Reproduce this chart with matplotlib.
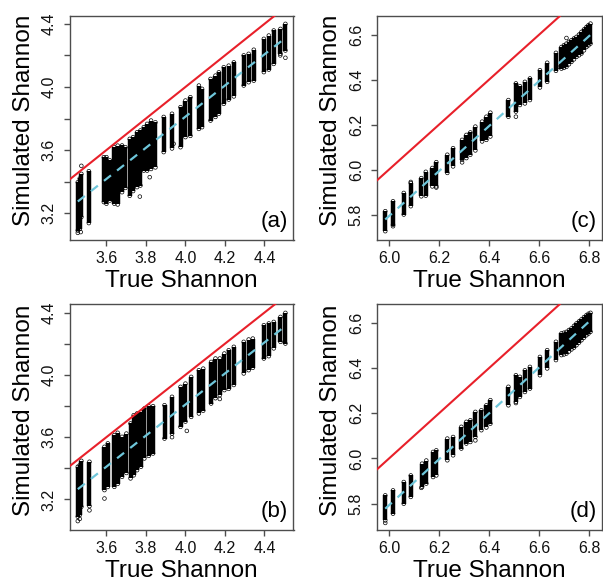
import matplotlib
matplotlib.use("Agg")
import matplotlib.pyplot as plt
import numpy as np

plt.rcParams['font.family'] = ['Liberation Sans', 'DejaVu Sans']

# ---- panel (a) ----
a_x = [3.455, 3.465, 3.473, 3.511, 3.587, 3.600, 3.617, 3.640, 3.657, 3.679, 3.696,
       3.718, 3.735, 3.755, 3.772, 3.789, 3.806, 3.826, 3.848, 3.890, 3.932, 3.975,
       4.000, 4.025, 4.068, 4.084, 4.127, 4.152, 4.169, 4.194, 4.219, 4.245, 4.295,
       4.320, 4.346, 4.397, 4.422, 4.447, 4.481, 4.506]
a_lo = [3.09, 3.10, 3.175, 3.137, 3.27, 3.26, 3.28, 3.26, 3.255, 3.333, 3.36,
        3.31, 3.34, 3.365, 3.375, 3.47, 3.47, 3.48, 3.49, 3.587, 3.61, 3.618,
        3.682, 3.69, 3.734, 3.745, 3.787, 3.81, 3.83, 3.893, 3.92, 3.94, 4.009,
        4.03, 4.04, 4.094, 4.11, 4.146, 4.21, 4.231]
a_hi = [3.396, 3.42, 3.449, 3.466, 3.555, 3.555, 3.535, 3.618, 3.628, 3.629, 3.618,
        3.671, 3.682, 3.713, 3.724, 3.745, 3.766, 3.787, 3.776, 3.81, 3.83, 3.872,
        3.914, 3.935, 4.009, 3.988, 4.051, 4.072, 4.093, 4.125, 4.135, 4.156, 4.2,
        4.21, 4.236, 4.305, 4.326, 4.358, 4.368, 4.4]
a_out_x = [3.455, 3.47, 3.473, 3.769, 3.819, 3.94, 4.07, 4.506, 4.48]
a_out_y = [3.075, 3.08, 3.50, 3.305, 3.428, 3.64, 3.765, 4.185, 4.20]
a_fit_x = [3.455, 4.515]
a_fit_y = [3.274, 4.320]

# ---- panel (b) ----
b_x = [3.455, 3.465, 3.473, 3.514, 3.590, 3.607, 3.640, 3.657, 3.679, 3.701, 3.722,
       3.738, 3.755, 3.775, 3.792, 3.814, 3.836, 3.894, 3.932, 3.975, 4.000, 4.029,
       4.068, 4.090, 4.130, 4.152, 4.174, 4.197, 4.219, 4.245, 4.295, 4.320, 4.341,
       4.397, 4.422, 4.447, 4.481, 4.506]
b_lo = [3.089, 3.10, 3.153, 3.157, 3.26, 3.28, 3.281, 3.30, 3.345, 3.37, 3.335,
        3.355, 3.388, 3.41, 3.463, 3.48, 3.495, 3.591, 3.623, 3.666, 3.70, 3.73,
        3.752, 3.77, 3.816, 3.85, 3.87, 3.902, 3.91, 3.935, 4.009, 4.03, 4.045,
        4.105, 4.12, 4.17, 4.212, 4.201]
b_hi = [3.41, 3.42, 3.448, 3.442, 3.538, 3.56, 3.613, 3.628, 3.602, 3.623, 3.688,
        3.741, 3.752, 3.763, 3.784, 3.799, 3.799, 3.805, 3.859, 3.923, 3.944, 3.987,
        4.03, 4.04, 4.083, 4.105, 4.105, 4.137, 4.158, 4.18, 4.212, 4.227, 4.233,
        4.319, 4.33, 4.34, 4.372, 4.398]
b_out_x = [3.455, 3.465, 3.514, 3.590, 3.932, 4.174, 4.007]
b_out_y = [3.061, 3.075, 3.13, 3.206, 3.60, 3.845, 3.64]
b_fit_x = [3.455, 4.515]
b_fit_y = [3.266, 4.323]

# ---- panel (c) ----
c_x = [5.985, 6.016, 6.059, 6.087, 6.129, 6.147, 6.173, 6.189, 6.233, 6.256, 6.292,
       6.309, 6.325, 6.345, 6.372, 6.389, 6.405, 6.477, 6.507, 6.523, 6.543, 6.563,
       6.603, 6.632, 6.667, 6.689, 6.699, 6.709, 6.719, 6.729, 6.739, 6.749, 6.759,
       6.769, 6.779, 6.789, 6.797, 6.805]
c_lo = [5.726, 5.748, 5.80, 5.837, 5.881, 5.884, 5.925, 5.925, 5.985, 6.014, 6.044,
        6.051, 6.066, 6.085, 6.125, 6.132, 6.147, 6.235, 6.258, 6.287, 6.294, 6.309,
        6.365, 6.39, 6.439, 6.449, 6.452, 6.457, 6.468, 6.479, 6.49, 6.501, 6.508,
        6.516, 6.53, 6.545, 6.552, 6.56]
c_hi = [5.815, 5.859, 5.896, 5.94, 5.962, 5.99, 6.007, 6.033, 6.066, 6.095, 6.132,
        6.154, 6.165, 6.191, 6.213, 6.235, 6.253, 6.309, 6.383, 6.371, 6.39, 6.405,
        6.442, 6.475, 6.519, 6.545, 6.553, 6.56, 6.568, 6.575, 6.583, 6.59, 6.60,
        6.612, 6.623, 6.634, 6.642, 6.649]
c_out_x = [6.507, 6.292, 6.016, 6.189, 6.087, 6.672, 6.709]
c_out_y = [6.235, 6.032, 5.755, 5.92, 5.945, 6.455, 6.585]
c_fit_x = [5.985, 6.810]
c_fit_y = [5.778, 6.604]

# ---- panel (d) ----
d_x = [5.985, 6.016, 6.059, 6.087, 6.132, 6.149, 6.176, 6.189, 6.233, 6.256, 6.289,
       6.309, 6.325, 6.345, 6.369, 6.389, 6.405, 6.477, 6.507, 6.523, 6.543, 6.563,
       6.603, 6.632, 6.667, 6.689, 6.699, 6.709, 6.719, 6.729, 6.739, 6.749, 6.759,
       6.769, 6.779, 6.789, 6.797, 6.805]
d_lo = [5.726, 5.756, 5.80, 5.83, 5.874, 5.889, 5.918, 5.925, 5.992, 6.014, 6.044,
        6.066, 6.073, 6.095, 6.125, 6.137, 6.154, 6.235, 6.25, 6.272, 6.294, 6.309,
        6.368, 6.398, 6.435, 6.457, 6.46, 6.464, 6.473, 6.482, 6.49, 6.501, 6.512,
        6.523, 6.534, 6.545, 6.552, 6.56]
d_hi = [5.837, 5.859, 5.896, 5.925, 5.977, 5.991, 6.029, 6.036, 6.088, 6.095, 6.14,
        6.162, 6.169, 6.206, 6.213, 6.235, 6.258, 6.317, 6.368, 6.361, 6.39, 6.405,
        6.449, 6.479, 6.516, 6.553, 6.556, 6.56, 6.568, 6.575, 6.586, 6.597, 6.606,
        6.615, 6.625, 6.634, 6.64, 6.644]
d_out_x = [5.985, 6.129, 6.507, 6.345]
d_out_y = [5.715, 5.87, 6.245, 6.08]
d_fit_x = [5.985, 6.803]
d_fit_y = [5.778, 6.609]

W, H = 603, 581
fig = plt.figure(figsize=(W / 100, H / 100), dpi=100)

# left, top, right, bottom in pixels
boxes = {
    'a': (69.5, 15.5, 293.5, 239.5),
    'c': (377.0, 15.5, 602.0, 239.5),
    'b': (69.5, 304.0, 293.5, 529.5),
    'd': (377.0, 304.0, 602.0, 529.5),
}

panels = {
    'a': (a_x, a_lo, a_hi, a_out_x, a_out_y, a_fit_x, a_fit_y,
          (3.413, 4.547), (3.033, 4.453)),
    'b': (b_x, b_lo, b_hi, b_out_x, b_out_y, b_fit_x, b_fit_y,
          (3.413, 4.547), (3.007, 4.455)),
    'c': (c_x, c_lo, c_hi, c_out_x, c_out_y, c_fit_x, c_fit_y,
          (5.952, 6.851), (5.689, 6.685)),
    'd': (d_x, d_lo, d_hi, d_out_x, d_out_y, d_fit_x, d_fit_y,
          (5.952, 6.851), (5.686, 6.683)),
}

frame_col = '#4d4d4d'

for key, (x, lo, hi, ox, oy, fx, fy, xl, yl) in panels.items():
    l, t, r, b = boxes[key]
    ax = fig.add_axes([l / W, 1 - b / H, (r - l) / W, (b - t) / H])
    ax.set_xlim(*xl)
    ax.set_ylim(*yl)

    # dense columns of simulated points
    ax.vlines(x, lo, hi, colors='black', linewidth=3.2, zorder=2)
    ax.scatter(x + x, lo + hi, s=7, facecolors='none', edgecolors='black',
               linewidths=0.5, zorder=2)
    ax.scatter(ox, oy, s=7, facecolors='none', edgecolors='black',
               linewidths=0.5, zorder=2)

    ax.axline((xl[0], xl[0]), slope=1, color='#e8202a', linewidth=1.5, zorder=3)
    ax.plot(fx, fy, color='#6ec6da', linewidth=1.6, linestyle=(0, (4, 3.5)), zorder=4)

    if key in ('a', 'b'):
        ax.set_xticks([3.6, 3.8, 4.0, 4.2, 4.4])
        ax.set_xticklabels(['3.6', '3.8', '4.0', '4.2', '4.4'])
        ax.set_yticks([3.2, 3.4, 3.6, 3.8, 4.0, 4.2, 4.4])
        ax.set_yticklabels(['3.2', '', '3.6', '', '4.0', '', '4.4'])
    else:
        ax.set_xticks([6.0, 6.2, 6.4, 6.6, 6.8])
        ax.set_xticklabels(['6.0', '6.2', '6.4', '6.6', '6.8'])
        ax.set_yticks([5.8, 6.0, 6.2, 6.4, 6.6])
        ax.set_yticklabels(['5.8', '6.0', '6.2', '6.4', '6.6'])

    for s in ax.spines.values():
        s.set_color(frame_col)
        s.set_linewidth(1.0)
    ax.tick_params(axis='both', length=4.5, width=1.0, color=frame_col,
                   labelsize=11.5, labelcolor='#111111')
    ax.tick_params(axis='x', pad=4)
    ax.tick_params(axis='y', pad=5)
    for lab in ax.get_yticklabels():
        lab.set_rotation(90)
        lab.set_va('center')

    ax.text(0.5, -0.135, 'True Shannon', transform=ax.transAxes,
            ha='center', va='top', fontsize=17.5)
    ax.text(-0.205, 0.53, 'Simulated Shannon', transform=ax.transAxes,
            ha='center', va='center', rotation=90, fontsize=17.5)
    ax.text(0.975, 0.035, '(%s)' % key, transform=ax.transAxes,
            ha='right', va='bottom', fontsize=16)

fig.savefig('out.png', dpi=100)
